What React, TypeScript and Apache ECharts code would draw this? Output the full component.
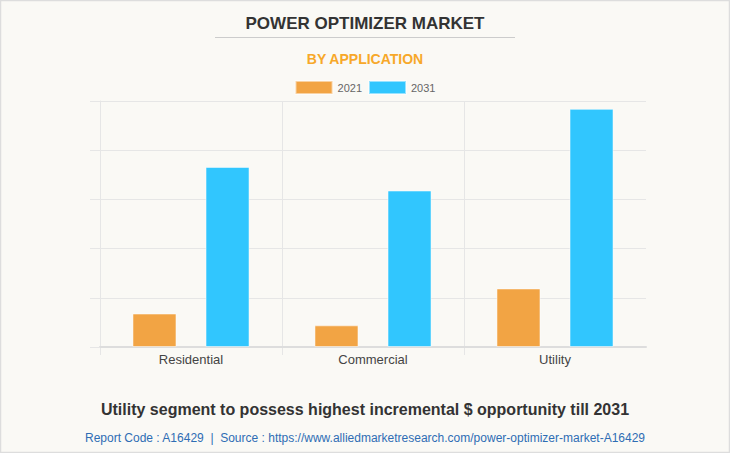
import React, { useEffect, useRef } from "react";
import * as echarts from "echarts";

const categories = ["Residential", "Commercial", "Utility"];
const series2021 = [6.8, 4.4, 11.9];
const series2031 = [36.6, 31.8, 48.4];
const seriesNames = ["2021", "2031"];

export default function App() {
  const ref = useRef<HTMLDivElement>(null);
  useEffect(() => {
    if (!ref.current) return;
    const chart = echarts.init(ref.current, null, { renderer: "svg" });
    const font = "'Liberation Sans', Arial, sans-serif";
    const gridLine = "#e6e6e6";
    const vColors = [gridLine, gridLine, gridLine, "rgba(0,0,0,0)"];
    chart.setOption({
      animation: false,
      backgroundColor: "#faf9f5",
      textStyle: { fontFamily: font },
      title: [
        {
          text: "POWER OPTIMIZER MARKET",
          left: "center",
          top: 10,
          textStyle: { fontSize: 17, fontWeight: "bold", color: "#333", fontFamily: font },
        },
        {
          text: "BY APPLICATION",
          left: "center",
          top: 47,
          textStyle: { fontSize: 14, fontWeight: "bold", color: "#F7A829", fontFamily: font },
        },
        {
          text: "Utility segment to possess highest incremental $ opportunity till 2031",
          left: "center",
          top: 396,
          textStyle: { fontSize: 16, fontWeight: "bold", color: "#333", fontFamily: font },
        },
        {
          text: "Report Code : A16429  |  Source : https://www.alliedmarketresearch.com/power-optimizer-market-A16429",
          left: "center",
          top: 427,
          textStyle: { fontSize: 12, fontWeight: "normal", color: "#2E6DB4", fontFamily: font },
        },
      ],
      graphic: [
        {
          type: "rect",
          shape: { x: 0.5, y: 0.5, width: 729, height: 452 },
          style: { fill: "none", stroke: "#dddddd", lineWidth: 1.5 },
          silent: true,
        },
        {
          type: "line",
          shape: { x1: 215, y1: 37.5, x2: 515, y2: 37.5 },
          style: { stroke: "#cccccc", lineWidth: 1 },
        },
      ],
      legend: {
        data: seriesNames,
        top: 75,
        left: "center",
        itemWidth: 37,
        itemHeight: 13,
        itemGap: 6,
        icon: "rect",
        textStyle: { fontSize: 11, color: "#666", fontFamily: font },
      },
      grid: [
        { left: 100, right: 84, top: 101, bottom: 106 },
        { left: 100, right: 84, top: 347, height: 8 },
      ],
      xAxis: [
        {
          type: "category",
          data: categories,
          boundaryGap: true,
          gridIndex: 0,
          axisLine: { show: true, lineStyle: { color: "#dddddd", width: 2 } },
          axisTick: { show: false },
          splitLine: { show: true, lineStyle: { color: vColors } },
          axisLabel: { fontSize: 13, color: "#444", margin: 6, fontFamily: font },
        },
        {
          type: "category",
          data: categories,
          boundaryGap: true,
          gridIndex: 1,
          axisLine: { show: false },
          axisTick: { show: false },
          axisLabel: { show: false },
          splitLine: { show: true, lineStyle: { color: vColors } },
        },
      ],
      yAxis: [
        {
          type: "value",
          min: 0,
          max: 50,
          interval: 10,
          gridIndex: 0,
          axisLine: { show: true, lineStyle: { color: gridLine } },
          axisTick: { show: true, length: 10, lineStyle: { color: gridLine } },
          axisLabel: { show: false },
          splitLine: { show: true, lineStyle: { color: gridLine } },
        },
        {
          type: "value",
          gridIndex: 1,
          show: false,
          splitLine: { show: false },
        },
      ],
      series: [
        {
          name: seriesNames[0],
          type: "bar",
          data: series2021,
          barWidth: 44,
          barGap: "66%",
          itemStyle: { color: "#F2A444", borderColor: "rgba(255,255,255,0.5)", borderWidth: 1 },
        },
        {
          name: seriesNames[1],
          type: "bar",
          data: series2031,
          barWidth: 44,
          barGap: "66%",
          itemStyle: { color: "#31C6FE", borderColor: "rgba(255,255,255,0.5)", borderWidth: 1 },
        },
      ],
    });
    return () => chart.dispose();
  }, []);
  return (
    <div
      ref={ref}
      style={{ position: "absolute", left: 0, top: 0, width: 730, height: 453 }}
    />
  );
}
